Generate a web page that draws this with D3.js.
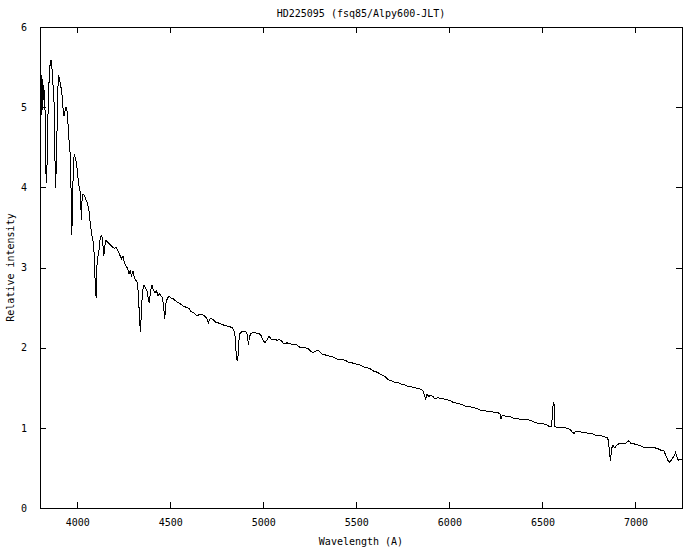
<!DOCTYPE html>
<html>
<head>
<meta charset="utf-8">
<script src="https://cdn.jsdelivr.net/npm/d3@7"></script>
<style>
  html, body { margin: 0; padding: 0; background: #fff; }
  svg text { font-family: "DejaVu Sans Mono", monospace; font-size: 10px; fill: #000; }
</style>
</head>
<body>
<svg id="chart" width="700" height="550"></svg>
<script>
const title = "HD225095 (fsq85/Alpy600-JLT)";
const xLabel = "Wavelength (A)";
const yLabel = "Relative intensity";
const xTicks = [4000, 4500, 5000, 5500, 6000, 6500, 7000];
const yTicks = [0, 1, 2, 3, 4, 5, 6];
const xDomain = [3800, 7250];
const yDomain = [0, 6];

// wavelength (Angstrom)
const wavelength = [
3803,3805,3808,3812,3815,3818,3821,3827,3832,3836,3840,3846,3854,3859,3864,3870,3874,3878,3883,3889,
3894,3899,3905,3910,3916,3921,3925,3929,3933,3940,3945,3950,3956,3961,3967,3971,3975,3980,3985,3991,
3996,4002,4007,4012,4018,4022,4026,4031,4039,4047,4055,4063,4071,4079,4088,4093,4098,4102,4106,4112,
4117,4122,4131,4136,4143,4148,4155,4165,4176,4187,4198,4208,4219,4230,4238,4246,4254,4262,4270,4278,
4284,4292,4300,4308,4316,4324,4329,4335,4340,4345,4351,4359,4367,4375,4383,4388,4394,4402,4410,4418,
4426,4434,4442,4450,4458,4464,4470,4477,4485,4493,4504,4515,4525,4536,4547,4558,4568,4579,4590,4601,
4611,4622,4633,4644,4654,4665,4676,4687,4697,4705,4714,4724,4735,4746,4757,4767,4778,4789,4800,4810,
4821,4832,4843,4848,4853,4859,4864,4869,4875,4886,4896,4907,4915,4920,4926,4934,4945,4955,4966,4977,
4988,4998,5009,5020,5031,5041,5052,5063,5074,5084,5095,5106,5117,5127,5143,5160,5176,5192,5208,5224,
5240,5256,5267,5283,5299,5315,5332,5348,5364,5380,5396,5412,5428,5444,5461,5477,5493,5509,5525,5541,
5557,5573,5590,5606,5622,5638,5654,5670,5686,5702,5718,5735,5751,5767,5783,5799,5815,5831,5847,5858,
5866,5872,5880,5890,5901,5912,5923,5939,5955,5971,5987,6003,6019,6036,6052,6068,6084,6100,6116,6132,
6148,6165,6181,6197,6213,6229,6245,6261,6272,6277,6283,6293,6310,6326,6342,6358,6374,6390,6406,6422,
6439,6455,6471,6487,6503,6519,6535,6546,6554,6558,6562,6566,6573,6589,6605,6621,6637,6648,6659,6670,
6680,6691,6702,6718,6734,6750,6766,6782,6799,6815,6831,6847,6855,6860,6866,6871,6879,6890,6901,6911,
6928,6944,6954,6965,6976,6992,7008,7024,7040,7057,7073,7089,7105,7121,7137,7153,7164,7175,7185,7196,
7207,7215,7223,7231,7239,7250
];

// relative intensity
const intensity = [
5.36,4.81,5.40,5.34,4.96,5.28,5.24,4.96,4.18,4.05,4.59,5.21,5.53,5.59,5.49,5.28,5.24,4.71,3.99,4.34,
5.09,5.40,5.36,5.28,5.21,5.09,4.94,4.89,4.94,5.00,4.96,4.81,4.59,4.46,3.96,3.40,3.84,4.34,4.40,4.36,
4.30,4.19,4.04,4.00,3.90,3.59,3.84,3.92,3.90,3.84,3.81,3.71,3.53,3.40,3.30,3.06,2.71,2.62,3.02,3.15,
3.21,3.34,3.41,3.34,3.15,3.27,3.34,3.31,3.29,3.26,3.24,3.25,3.21,3.15,3.11,3.14,3.06,3.02,2.99,2.92,
2.96,2.90,2.96,2.86,2.84,2.81,2.65,2.36,2.19,2.46,2.71,2.78,2.75,2.71,2.59,2.56,2.71,2.78,2.71,2.69,
2.71,2.65,2.67,2.65,2.62,2.52,2.36,2.56,2.62,2.64,2.62,2.61,2.59,2.57,2.56,2.54,2.52,2.51,2.50,2.49,
2.45,2.44,2.42,2.40,2.41,2.42,2.41,2.39,2.36,2.31,2.36,2.36,2.34,2.31,2.31,2.30,2.29,2.28,2.28,2.26,
2.26,2.25,2.21,2.15,1.96,1.84,1.89,2.09,2.18,2.20,2.20,2.20,2.16,2.03,2.14,2.18,2.19,2.19,2.18,2.18,
2.15,2.10,2.06,2.10,2.14,2.11,2.10,2.11,2.09,2.10,2.09,2.06,2.05,2.06,2.05,2.04,2.04,2.01,2.00,2.00,
1.99,1.95,1.94,1.96,1.96,1.92,1.91,1.90,1.89,1.88,1.86,1.85,1.85,1.84,1.81,1.81,1.80,1.79,1.78,1.76,
1.75,1.74,1.71,1.70,1.68,1.66,1.64,1.60,1.59,1.57,1.57,1.55,1.54,1.53,1.51,1.51,1.50,1.49,1.48,1.46,
1.40,1.36,1.42,1.39,1.41,1.39,1.36,1.38,1.36,1.36,1.35,1.34,1.32,1.31,1.30,1.29,1.27,1.26,1.26,1.25,
1.24,1.22,1.22,1.21,1.20,1.20,1.19,1.19,1.17,1.11,1.15,1.15,1.14,1.14,1.12,1.12,1.11,1.11,1.10,1.10,
1.09,1.07,1.06,1.05,1.05,1.04,1.02,1.01,1.14,1.32,1.31,1.02,1.01,1.01,1.00,1.00,0.99,0.98,0.95,0.93,
0.96,0.95,0.95,0.94,0.94,0.93,0.93,0.91,0.90,0.90,0.89,0.88,0.84,0.69,0.59,0.74,0.78,0.75,0.79,0.80,
0.81,0.80,0.82,0.84,0.80,0.80,0.79,0.78,0.76,0.75,0.76,0.76,0.75,0.74,0.72,0.71,0.65,0.59,0.57,0.61,
0.65,0.69,0.64,0.59,0.61,0.60
];

const svg = d3.select("#chart");
const L = 40, R = 682, T = 27, B = 508;

const x = d3.scaleLinear().domain(xDomain).range([L, R]);
const y = d3.scaleLinear().domain(yDomain).range([B, T]);

const tickLen = 6;

const gx = svg.append("g").attr("transform", `translate(0,${B})`)
  .call(d3.axisBottom(x).tickValues(xTicks).tickSize(-tickLen).tickPadding(11).tickFormat(d3.format("d")));
const gxt = svg.append("g").attr("transform", `translate(0,${T})`)
  .call(d3.axisTop(x).tickValues(xTicks).tickSize(-tickLen).tickFormat(""));
const gy = svg.append("g").attr("transform", `translate(${L},0)`)
  .call(d3.axisLeft(y).tickValues(yTicks).tickSize(-tickLen).tickPadding(13).tickFormat(d3.format("d")));
const gyr = svg.append("g").attr("transform", `translate(${R},0)`)
  .call(d3.axisRight(y).tickValues(yTicks).tickSize(-tickLen).tickFormat(""));

[gx, gxt, gy, gyr].forEach(g => {
  g.select(".domain").remove();
  g.selectAll(".tick line").attr("stroke", "#000").attr("shape-rendering", "crispEdges");
  g.selectAll("text").attr("font-family", "DejaVu Sans Mono, monospace").attr("font-size", 10);
});

svg.append("rect")
  .attr("x", L).attr("y", T).attr("width", R - L).attr("height", B - T)
  .attr("fill", "none").attr("stroke", "#000").attr("stroke-width", 1)
  .attr("shape-rendering", "crispEdges");

const data = wavelength.map((w, i) => ({ w, v: intensity[i] }));
const line = d3.line().x(d => x(d.w)).y(d => y(d.v)).curve(d3.curveLinear);
svg.append("path")
  .datum(data)
  .attr("d", line)
  .attr("fill", "none")
  .attr("stroke", "#000")
  .attr("stroke-width", 1)
  .attr("shape-rendering", "crispEdges");

svg.append("text").attr("x", (L + R) / 2).attr("y", 17)
  .attr("text-anchor", "middle").text(title);
svg.append("text").attr("x", (L + R) / 2).attr("y", 545)
  .attr("text-anchor", "middle").text(xLabel);
svg.append("text")
  .attr("transform", `translate(14,${(T + B) / 2}) rotate(-90)`)
  .attr("text-anchor", "middle").text(yLabel);
</script>
</body>
</html>
